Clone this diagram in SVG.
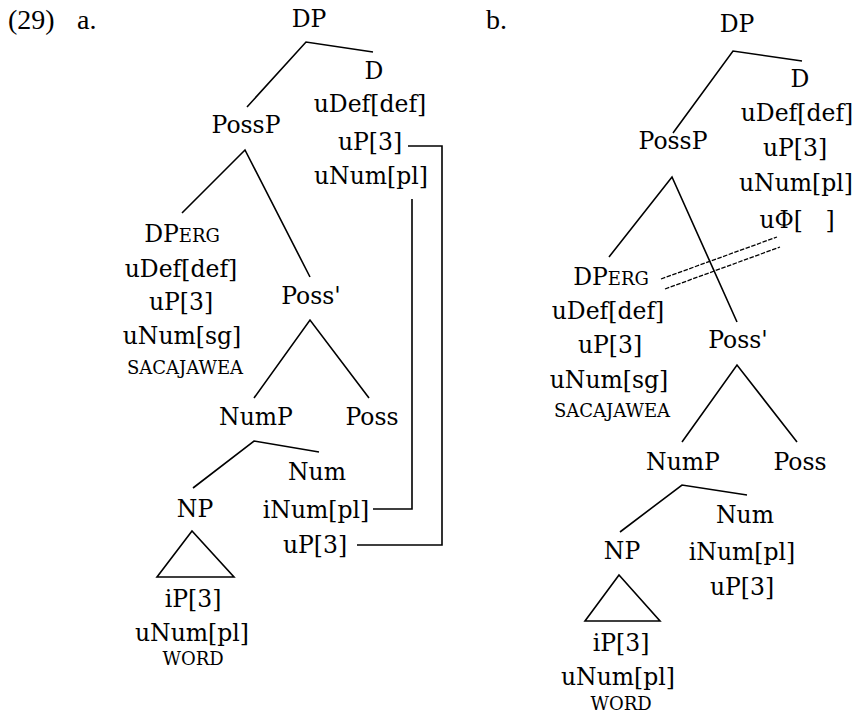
<svg xmlns="http://www.w3.org/2000/svg" width="856" height="714" viewBox="0 0 856 714">
<style>
text{font-family:"DejaVu Serif","Liberation Serif",serif;font-size:23.5px;fill:#000;text-anchor:middle}
.sc{font-size:18px}
.ex{font-family:"Liberation Serif","Times New Roman",serif;font-size:28px;text-anchor:start}
.ln{stroke:#000;stroke-width:1.6;fill:none}
.dash{stroke:#000;stroke-width:1.3;fill:none;stroke-dasharray:4.5 1.5}
</style>
<rect width="856" height="714" fill="#fff"/>
<g id="labels">
<text class="ex" x="8" y="29">(29)</text>
<text class="ex" x="77" y="29">a.</text>
<text class="ex" x="486" y="29">b.</text>
</g>
<g id="connectors">
<polyline class="ln" points="247,107 306,42 373,52"/>
<polyline class="ln" points="182,213 245,150 310,277"/>
<polyline class="ln" points="254,398 310,320 369,398"/>
<polyline class="ln" points="193,488 254,441 319,452"/>
<polygon class="ln" points="192,531 157,577 234,577"/>
<polyline class="ln" points="408,146 442,146 442,545 357,545"/>
<polyline class="ln" points="412,199 412,509 373,509"/>
<polyline class="ln" points="673,133 733,51 802,61"/>
<polyline class="ln" points="609,257 672,177 737,322"/>
<polyline class="ln" points="682,442 737,365 797,442"/>
<polyline class="ln" points="620,532 682,485 747,495"/>
<polygon class="ln" points="619,575 585,621 660,621"/>
<line class="dash" x1="661" y1="279" x2="777" y2="237"/>
<line class="dash" x1="665" y1="289" x2="780" y2="247"/>
</g>
<g id="a-DP"><text x="309" y="27">DP</text></g>
<g id="a-D"><text x="374" y="79">D</text><text x="370" y="112">uDef[def]</text><text x="370" y="150">uP[3]</text><text x="371" y="184">uNum[pl]</text></g>
<g id="a-PossP"><text x="246" y="133">PossP</text></g>
<g id="a-DPerg"><text x="182" y="242">DP<tspan class="sc">ERG</tspan></text><text x="181" y="277">uDef[def]</text><text x="181" y="310">uP[3]</text><text x="182" y="344">uNum[sg]</text><text class="sc" x="185" y="374">SACAJAWEA</text></g>
<g id="a-Possbar"><text x="311" y="304">Poss'</text></g>
<g id="a-NumP"><text x="256" y="425">NumP</text></g>
<g id="a-Poss"><text x="372" y="425">Poss</text></g>
<g id="a-Num"><text x="317" y="480">Num</text><text x="316" y="518">iNum[pl]</text><text x="315" y="553">uP[3]</text></g>
<g id="a-NP"><text x="195" y="517">NP</text><text x="193" y="607">iP[3]</text><text x="192" y="641">uNum[pl]</text><text class="sc" x="193" y="665">WORD</text></g>
<g id="b-DP"><text x="737" y="32">DP</text></g>
<g id="b-D"><text x="800" y="87">D</text><text x="797" y="121">uDef[def]</text><text x="795" y="156">uP[3]</text><text x="796" y="191">uNum[pl]</text><text x="797" y="228">uΦ[&#160;&#160;&#160;]</text></g>
<g id="b-PossP"><text x="673" y="149">PossP</text></g>
<g id="b-DPerg"><text x="611" y="285">DP<tspan class="sc">ERG</tspan></text><text x="608" y="319">uDef[def]</text><text x="610" y="353">uP[3]</text><text x="609" y="388">uNum[sg]</text><text class="sc" x="612" y="417">SACAJAWEA</text></g>
<g id="b-Possbar"><text x="738" y="348">Poss'</text></g>
<g id="b-NumP"><text x="683" y="470">NumP</text></g>
<g id="b-Poss"><text x="800" y="470">Poss</text></g>
<g id="b-Num"><text x="745" y="523">Num</text><text x="742" y="560">iNum[pl]</text><text x="742" y="595">uP[3]</text></g>
<g id="b-NP"><text x="622" y="559">NP</text><text x="621" y="651">iP[3]</text><text x="618" y="685">uNum[pl]</text><text class="sc" x="621" y="710">WORD</text></g>
</svg>
